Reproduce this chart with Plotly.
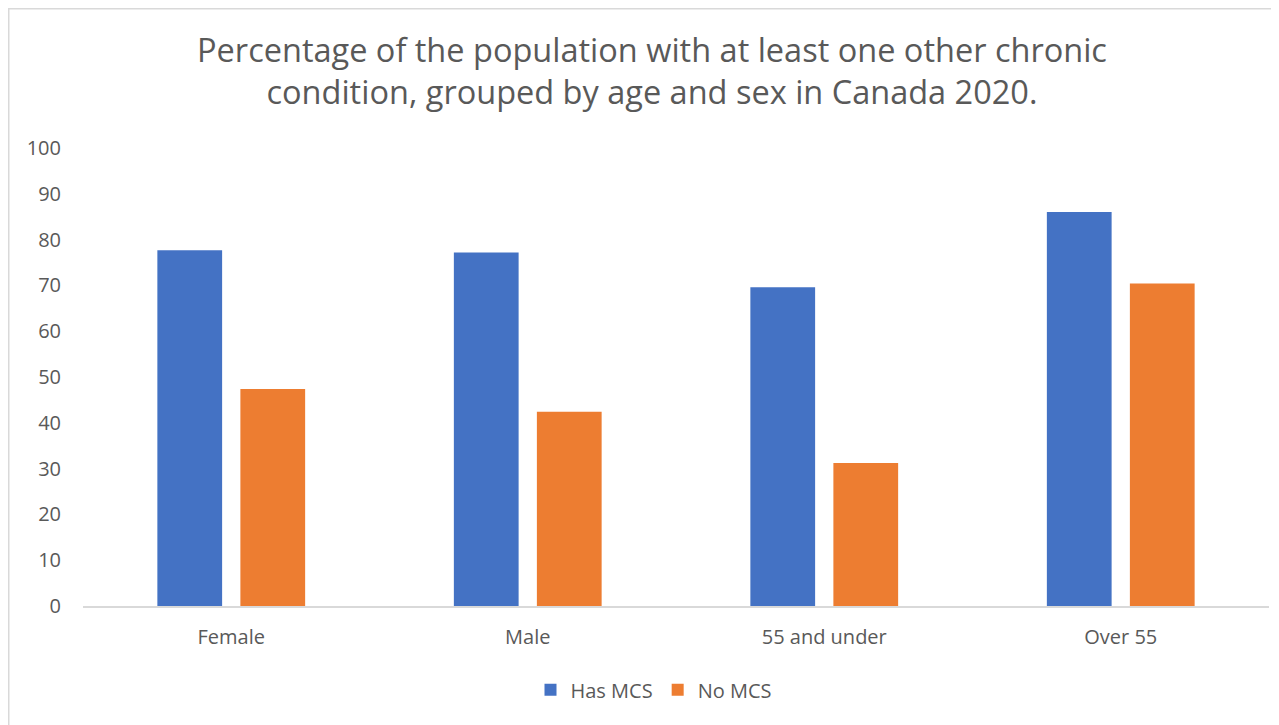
import plotly.graph_objects as go

categories = ["Female", "Male", "55 and under", "Over 55"]
has_mcs = [77.7, 77.2, 69.6, 86.0]
no_mcs = [47.4, 42.4, 31.2, 70.4]
y_ticks = [0, 10, 20, 30, 40, 50, 60, 70, 80, 90, 100]

# page is offset by the 8px body margin
W, H = 1279, 725
L, R, T, B = 75, 18, 140, 127
pw, ph = W - L - R, H - T - B

font = "Open Sans"
gray = "#595959"

fig = go.Figure()
fig.add_trace(go.Bar(name="Has MCS", x=categories, y=has_mcs, marker=dict(color="#4472C4", line=dict(width=0))))
fig.add_trace(go.Bar(name="No MCS", x=categories, y=no_mcs, marker=dict(color="#ED7D31", line=dict(width=0))))

fig.update_layout(
    width=W, height=H,
    margin=dict(l=L, r=R, t=T, b=B),
    paper_bgcolor="white", plot_bgcolor="white",
    barmode="group", bargap=0.44, bargroupgap=0.22,
    font=dict(family=font, color=gray),
    title=dict(
        text="Percentage of the population with at least one other chronic<br>condition, grouped by age and sex in Canada 2020.",
        x=(652 - 8) / W, xanchor="center", y=1 - (62 - 8) / H, yanchor="middle",
        font=dict(size=32.5, color=gray, family=font),
    ),
    xaxis=dict(showgrid=False, showline=True, linecolor="#d9d9d9", linewidth=1.5,
               ticks="", tickfont=dict(size=20, color=gray), ticklabelstandoff=12),
    yaxis=dict(range=[0, 100], tickvals=y_ticks, showgrid=False, zeroline=False,
               showline=False, ticks="", tickfont=dict(size=20, color=gray), ticklabelstandoff=21),
    legend=dict(orientation="h", x=(654 - 8 - L) / pw, xanchor="center", y=-0.183, yanchor="middle",
                font=dict(size=20, color=gray), itemwidth=30, traceorder="normal"),
    shapes=[dict(type="rect", xref="paper", yref="paper",
                 x0=(0.5 - L) / pw, x1=(W + 20 - L) / pw,
                 y0=(H - B - (H + 20)) / ph, y1=(H - B - 0.5) / ph,
                 line=dict(color="#d9d9d9", width=2), fillcolor="rgba(0,0,0,0)", layer="below")],
)

fig.write_html("out.html")
